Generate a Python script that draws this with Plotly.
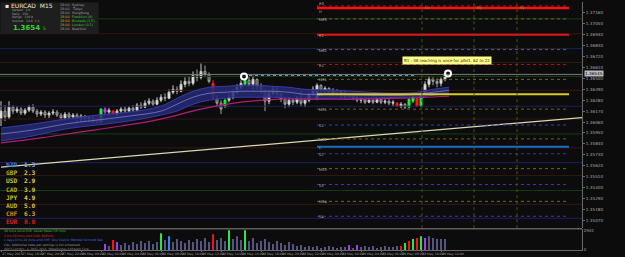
import plotly.graph_objects as go

# ------------------------------------------------------------------ data
opens = [1.3609, 1.3617, 1.3611, 1.3621, 1.3617, 1.3619, 1.3615, 1.3618, 1.3621, 1.3617,
         1.3614, 1.3616, 1.3613, 1.3615, 1.3616, 1.3613, 1.3610, 1.3614, 1.3611, 1.3613,
         1.3609, 1.3612, 1.3609, 1.3610, 1.3609, 1.3606, 1.3619, 1.3616, 1.3617, 1.3614,
         1.3617, 1.3619, 1.3617, 1.3620, 1.3618, 1.3623, 1.3621, 1.3625, 1.3627, 1.3624,
         1.3628, 1.3631, 1.3630, 1.3636, 1.3639, 1.3637, 1.3644, 1.3647, 1.3645, 1.3653,
         1.3651, 1.3657, 1.3654, 1.3645, 1.3630, 1.3625, 1.3622, 1.3628, 1.3631, 1.3636,
         1.3641, 1.3644, 1.3648, 1.3644, 1.3649, 1.3642, 1.3637, 1.3627, 1.3635, 1.3639,
         1.3634, 1.3629, 1.3624, 1.3628, 1.3626, 1.3630, 1.3625, 1.3628, 1.3634, 1.3630,
         1.3643, 1.3638, 1.3640, 1.3635, 1.3638, 1.3634, 1.3636, 1.3632, 1.3634, 1.3630,
         1.3628, 1.3629, 1.3626, 1.3628, 1.3626, 1.3629, 1.3626, 1.3627, 1.3625, 1.3625,
         1.3622, 1.3624, 1.3621, 1.3627, 1.3630, 1.3622, 1.3635, 1.3644, 1.3649, 1.3647,
         1.3645, 1.3649]
highs = [1.3627, 1.3623, 1.3627, 1.3623, 1.3622, 1.3621, 1.3620, 1.3623, 1.3624, 1.3619,
         1.3618, 1.3618, 1.3617, 1.3619, 1.3618, 1.3615, 1.3616, 1.3616, 1.3615, 1.3615,
         1.3614, 1.3613, 1.3612, 1.3612, 1.3610, 1.3620, 1.3621, 1.3620, 1.3618, 1.3619,
         1.3621, 1.3622, 1.3622, 1.3623, 1.3625, 1.3626, 1.3628, 1.3630, 1.3629, 1.3631,
         1.3634, 1.3635, 1.3639, 1.3643, 1.3642, 1.3648, 1.3651, 1.3652, 1.3657, 1.3659,
         1.3665, 1.3663, 1.3656, 1.3648, 1.3633, 1.3628, 1.3630, 1.3635, 1.3639, 1.3644,
         1.3648, 1.3650, 1.3652, 1.3653, 1.3650, 1.3645, 1.3639, 1.3638, 1.3642, 1.3641,
         1.3636, 1.3632, 1.3631, 1.3630, 1.3632, 1.3638, 1.3631, 1.3636, 1.3642, 1.3645,
         1.3644, 1.3642, 1.3641, 1.3640, 1.3639, 1.3638, 1.3637, 1.3635, 1.3635, 1.3633,
         1.3631, 1.3630, 1.3630, 1.3629, 1.3631, 1.3630, 1.3629, 1.3629, 1.3628, 1.3626,
         1.3626, 1.3625, 1.3630, 1.3634, 1.3632, 1.3637, 1.3647, 1.3652, 1.3651, 1.3650,
         1.3651, 1.3657]
lows = [1.3602, 1.3607, 1.3609, 1.3614, 1.3615, 1.3613, 1.3613, 1.3616, 1.3615, 1.3611,
        1.3612, 1.3610, 1.3610, 1.3613, 1.3611, 1.3607, 1.3608, 1.3609, 1.3608, 1.3606,
        1.3606, 1.3607, 1.3606, 1.3605, 1.3604, 1.3605, 1.3614, 1.3614, 1.3613, 1.3612,
        1.3615, 1.3615, 1.3616, 1.3616, 1.3617, 1.3619, 1.3620, 1.3623, 1.3622, 1.3623,
        1.3626, 1.3627, 1.3629, 1.3634, 1.3634, 1.3636, 1.3641, 1.3642, 1.3643, 1.3647,
        1.3649, 1.3651, 1.3645, 1.3629, 1.3621, 1.3614, 1.3620, 1.3626, 1.3629, 1.3634,
        1.3639, 1.3643, 1.3641, 1.3639, 1.3638, 1.3634, 1.3617, 1.3624, 1.3633, 1.3631,
        1.3626, 1.3620, 1.3621, 1.3623, 1.3624, 1.3622, 1.3621, 1.3626, 1.3632, 1.3628,
        1.3635, 1.3634, 1.3633, 1.3632, 1.3632, 1.3631, 1.3630, 1.3631, 1.3628, 1.3626,
        1.3625, 1.3624, 1.3625, 1.3624, 1.3625, 1.3624, 1.3624, 1.3623, 1.3622, 1.3621,
        1.3620, 1.3619, 1.3620, 1.3625, 1.3621, 1.3621, 1.3633, 1.3641, 1.3643, 1.3641,
        1.3642, 1.3647]
closes = [1.3617, 1.3611, 1.3621, 1.3617, 1.3619, 1.3615, 1.3618, 1.3621, 1.3617, 1.3614,
          1.3616, 1.3613, 1.3615, 1.3616, 1.3613, 1.3610, 1.3614, 1.3611, 1.3613, 1.3609,
          1.3612, 1.3609, 1.3610, 1.3607, 1.3606, 1.3619, 1.3616, 1.3618, 1.3614, 1.3617,
          1.3619, 1.3617, 1.3620, 1.3618, 1.3623, 1.3621, 1.3625, 1.3627, 1.3624, 1.3628,
          1.3631, 1.3630, 1.3636, 1.3639, 1.3637, 1.3644, 1.3647, 1.3645, 1.3653, 1.3651,
          1.3657, 1.3654, 1.3647, 1.3630, 1.3625, 1.3619, 1.3628, 1.3631, 1.3636, 1.3641,
          1.3645, 1.3648, 1.3644, 1.3649, 1.3642, 1.3637, 1.3627, 1.3635, 1.3639, 1.3634,
          1.3629, 1.3624, 1.3628, 1.3626, 1.3630, 1.3625, 1.3628, 1.3634, 1.3639, 1.3643,
          1.3638, 1.3640, 1.3635, 1.3638, 1.3634, 1.3636, 1.3632, 1.3634, 1.3630, 1.3628,
          1.3629, 1.3626, 1.3628, 1.3626, 1.3629, 1.3626, 1.3627, 1.3625, 1.3626, 1.3622,
          1.3624, 1.3621, 1.3629, 1.3632, 1.3622, 1.3635, 1.3644, 1.3649, 1.3647, 1.3645,
          1.3649, 1.3655]
bar_idx = list(range(len(opens)))

# highlighted candles (index -> colour)
hl_idx = [24, 25, 26, 28, 53, 56, 61, 87, 99, 102, 103, 104, 105]
hl_col = ['#ff1a1a', '#22e84a', '#c040f0', '#ff1a1a', '#ff1a1a', '#22e84a', '#22e84a',
          '#c040f0', '#ff1a1a', '#22e84a', '#22e84a', '#ff1a1a', '#22e84a']

# moving-average band
band_idx = [0, 8, 16, 24, 32, 40, 44, 48, 52, 56, 60, 64, 68, 72, 76, 84, 92, 100, 104, 108, 112]
band_upper = [1.3600, 1.3604, 1.3609, 1.3613, 1.3616, 1.3622, 1.3630, 1.3637, 1.3641, 1.3642,
              1.3643, 1.3643, 1.3642, 1.3641, 1.3639, 1.3638, 1.3636, 1.3635, 1.3636, 1.3639, 1.3641]
band_mid = [1.3594, 1.3598, 1.3604, 1.3608, 1.3612, 1.3617, 1.3624, 1.3631, 1.3635, 1.3636,
            1.3637, 1.3637, 1.3637, 1.3636, 1.3634, 1.3634, 1.3633, 1.3633, 1.3634, 1.3636, 1.3638]
band_lower = [1.3587, 1.3592, 1.3599, 1.3603, 1.3607, 1.3613, 1.3617, 1.3624, 1.3628, 1.3630,
              1.3631, 1.3631, 1.3631, 1.3630, 1.3629, 1.3630, 1.3630, 1.3631, 1.3631, 1.3633, 1.3635]
slow_idx = [0, 10, 20, 30, 40, 50, 60, 70, 80, 90, 100, 112]
slow_val = [1.3585, 1.3590, 1.3596, 1.3602, 1.3609, 1.3619, 1.3626, 1.3629, 1.3629, 1.3629, 1.3630, 1.3632]

# long trend line
trend_x = [0, 152.5]
trend_y = [1.35605, 1.3613]

# round-number levels (full width)
round_levels = [1.3710, 1.3695, 1.3680, 1.3666, 1.3652, 1.3638, 1.3622, 1.3609,
                1.3594, 1.3580, 1.3565, 1.3552, 1.3537, 1.3523, 1.3509]
round_colors = ['#123e16', '#3a1515', '#1f1f5c', '#3a1515'] * 4

current_price = 1.36545
cur_line_price = 1.3654
dotted_cyan_x = [62, 104]
dotted_cyan_y = [1.3653, 1.3653]

# pivot levels
piv_names = ["R3", "H", "MR3", "R2", "MR2", "R1", "MR1", "PP", "MS1", "S1", "MS2", "L",
             "S2", "MS3", "S3", "MS4", "S4"]
piv_prices = [1.3723, 1.3721, 1.3710, 1.3694, 1.3679, 1.3664, 1.3649, 1.3634, 1.3619, 1.3603,
              1.3589, 1.3581, 1.3574, 1.3559, 1.3543, 1.3526, 1.3511]
piv_colors = ['#b01818', '#ff1010', '#6a6a14', '#e01414', '#6a6a14', '#a01818', '#6a6a14',
              '#d8cc20', '#6a6a14', '#3a3aa8', '#6a6a14', '#1c6cc0', '#3a3aa8', '#6a6a14',
              '#3a3aa8', '#6a6a14', '#3a3aa8']
piv_dash = ['dot', 'solid', 'dot', 'solid', 'dot', 'dot', 'dot', 'solid', 'dot', 'dot', 'dot',
            'solid', 'dot', 'dot', 'dot', 'dot', 'dot']
piv_width = [1, 2.5, 1, 2, 1, 1, 1, 2, 1, 1, 1, 2, 1, 1, 1, 1, 1]
piv_label_shift = [3, -3, 0, 0, 0, 0, 0, 0, 0, 0, 0, 0, 0, 0, 0, 0, 0]
piv_start, piv_end = 79, 142

# session markers
sess_x = [105.25, 118.25, 129]
sess_names = ["Lo", "Ny", "Sy"]

# signal markers
mark_x = [60.75, 111.75]
mark_y = [1.3652, 1.3655]

# volume
vol_idx = list(range(26, 112))
vol = [870, 580, 1450, 1160, 725, 1015, 725, 1160, 870, 1305,
       1015, 1305, 870, 1160, 2465, 1450, 2030, 1160, 1595, 1305,
       1015, 1450, 1160, 1595, 1305, 1740, 1160, 2320, 1450, 1740,
       1305, 2900, 1595, 2030, 1450, 2901, 1305, 1740, 1015, 1305,
       1595, 1160, 870, 1305, 1015, 725, 1160, 870, 580, 725,
       435, 580, 435, 580, 290, 435, 580, 435, 290, 435,
       435, 725, 290, 725, 435, 580, 435, 580, 290, 435,
       580, 435, 435, 580, 580, 1015, 1305, 1595, 1740, 2030,
       1740, 2030, 1740, 1595, 1595, 1595]
vol_special_idx = [26, 28, 29, 40, 42, 53, 57, 61, 87, 89, 100, 101, 102, 103, 104, 105, 106]
vol_special_col = ['#a040e8', '#ff1010', '#a040e8', '#22e84a', '#2a8ef0', '#ff1010', '#22e84a',
                   '#22e84a', '#a040e8', '#a040e8', '#ff1010', '#22e84a', '#ff1010', '#22e84a',
                   '#ff1010', '#22e84a', '#a040e8']

# axes labels
ytick_vals = [1.3716, 1.3705, 1.3694, 1.3683, 1.3672, 1.3661, 1.3650, 1.3639, 1.3628, 1.3617,
              1.3606, 1.3595, 1.3584, 1.3573, 1.3562, 1.3551, 1.3540, 1.3529, 1.3518, 1.3507]
xtick_vals = [0, 5, 10, 15, 20, 25, 30, 35, 40, 45, 50, 55, 60, 65, 70, 75, 80, 85, 90, 95, 100, 105, 110]
xtick_text = ["27 May 2015", "27 May 18:00", "27 May 20:00", "27 May 22:00", "28 May 00:00",
              "28 May 02:00", "28 May 04:00", "28 May 06:00", "28 May 08:00", "28 May 10:00",
              "28 May 12:00", "28 May 14:00", "28 May 16:00", "28 May 18:00", "28 May 20:00",
              "28 May 22:00", "29 May 00:00", "29 May 02:00", "29 May 04:00", "29 May 06:00",
              "29 May 08:00", "29 May 10:00", "29 May 12:00"]

currencies = ["NZD", "GBP", "USD", "CAD", "JPY", "AUD", "CHF", "EUR"]
strength = [1.3, 2.3, 2.9, 3.9, 4.9, 5.0, 6.3, 8.8]
cur_label_col = ['#3f7fd8', '#c0ac10', '#d0c020', '#b8a818', '#d4bc20', '#d8a820', '#d88a1a', '#e01818']
cur_value_col = ['#8ab4ec', '#e0d040', '#e0d040', '#d8c830', '#e0d040', '#e0c040', '#e0a030', '#e01818']

sessions = ["Sydney", "Tokyo", "HongKong", "Frankfurt (8)", "Brussels (1.5)", "London (0.5)", "NewYork"]
session_time = ["18:00"] * 7
session_open = [False, False, False, True, True, True, False]

info_lines = ["Spread:  2.0", "Daily:  150", "Range:  130.9", "Volume:  14.0  1.3"]

news_lines = ["30 mins since EUR: Italian Retail CPI m/m",
              "2 hrs 50 mins until CAD: BOPmm",
              "1 days 8 hrs 24 mins until CHF: Gov Council Member Schmidt Spe",
              "CAL: Additional news per settings is not scheduled",
              "ADCS London, \u00a9 2001-2014, MetaQuotes Software Corp."]
news_colors = ['#30c830', '#e82020', '#3a78e8', '#9a9a9a', '#8a8a8a']

note_text = "R1 : 48 reaching is once for pfbl1, 62 to 22"

# ------------------------------------------------------------------ layout helpers
BG = '#0c0c0c'
PW, PH = 582, 250
X0, X1 = -0.25, 145.25
Y0, Y1 = 1.3499, 1.3727
FONT = 'DejaVu Sans'


def fx(p):
    return p / PW


def fy(p):
    return (PH - p) / PH


fig = go.Figure()


def line(x, y, color, width=1, dash='solid', shape='linear'):
    fig.add_trace(go.Scatter(x=x, y=y, mode='lines', hoverinfo='skip',
                             line=dict(color=color, width=width, dash=dash, shape=shape)))


for lv, col in zip(round_levels, round_colors):
    line([X0, X1], [lv, lv], col, 1)

line(trend_x, trend_y, '#d8d8b4', 1.3)

# band
fig.add_trace(go.Scatter(x=band_idx, y=band_upper, mode='lines', hoverinfo='skip',
                         line=dict(color='#3a3aa6', width=1, shape='spline')))
fig.add_trace(go.Scatter(x=band_idx, y=band_lower, mode='lines', hoverinfo='skip', fill='tonexty',
                         fillcolor='rgba(38,42,120,0.85)',
                         line=dict(color='#3a3aa6', width=1, shape='spline')))
line(band_idx, band_mid, '#7c7cc4', 0.8, shape='spline')
line(slow_idx, slow_val, '#b01e78', 1.2, shape='spline')

line([X0, X1], [cur_line_price, cur_line_price], '#7a7a7a', 1)
line(dotted_cyan_x, dotted_cyan_y, '#6aa6d6', 1, 'dot')

ann = []

for name, pr, col, ds, wd, sh in zip(piv_names, piv_prices, piv_colors, piv_dash, piv_width,
                                     piv_label_shift):
    line([piv_start, piv_end], [pr, pr], col, wd, ds)
    ann.append(dict(x=piv_start, y=pr, xref='x', yref='y', text=name, showarrow=False,
                    xanchor='left', yanchor='middle', yshift=sh - 1,
                    font=dict(size=3.6, color='#b8b8b8', family=FONT)))

for sx, sn in zip(sess_x, sess_names):
    line([sx, sx], [Y0, Y1], '#4e4e1c', 1, 'dot')
    ann.append(dict(x=sx, y=Y1, xref='x', yref='y', text=sn, showarrow=False, xanchor='left',
                    yanchor='top', xshift=1, yshift=-1,
                    font=dict(size=4, color='#8a8a50', family=FONT)))

# candles
hl_set = set(hl_idx)
b = [i for i in bar_idx if i not in hl_set]
fig.add_trace(go.Candlestick(
    x=b, open=[opens[i] for i in b], high=[highs[i] for i in b],
    low=[lows[i] for i in b], close=[closes[i] for i in b],
    increasing=dict(line=dict(color='#c8c8c8', width=1), fillcolor='#f0f0f0'),
    decreasing=dict(line=dict(color='#a0a0a0', width=1), fillcolor='#3a3a3a'),
    hoverinfo='skip', whiskerwidth=0))
for i, c in zip(hl_idx, hl_col):
    fig.add_trace(go.Candlestick(
        x=[i], open=[opens[i]], high=[highs[i]], low=[lows[i]], close=[closes[i]],
        increasing=dict(line=dict(color=c, width=1), fillcolor=c),
        decreasing=dict(line=dict(color=c, width=1), fillcolor=c),
        hoverinfo='skip', whiskerwidth=0))

fig.add_trace(go.Scatter(x=mark_x, y=mark_y, mode='markers', hoverinfo='skip',
                         marker=dict(symbol='circle-open', size=6, color='#ffffff',
                                     line=dict(width=2, color='#ffffff'))))

# volume
vcol_map = dict(zip(vol_special_idx, vol_special_col))
vcols = [vcol_map.get(i, '#55557e') for i in vol_idx]
fig.add_trace(go.Bar(x=vol_idx, y=vol, marker=dict(color=vcols, line=dict(width=0)),
                     width=0.45, xaxis='x2', yaxis='y2', hoverinfo='skip'))


def txt(xp, yp, t, size, color, family=FONT, anchor='left'):
    ann.append(dict(x=fx(xp), y=fy(yp), xref='paper', yref='paper', text=t, showarrow=False,
                    xanchor=anchor, yanchor='middle', font=dict(size=size, color=color, family=family)))


# top-left panel background (annotation so that later texts draw above it)
ann.insert(0, dict(x=0, y=1, xref='paper', yref='paper', text=' ', showarrow=False,
                   xanchor='left', yanchor='top', width=97, height=30, bgcolor='#1e1e1e',
                   borderpad=0, font=dict(size=4)))
txt(3, 4, "\u25aa EURCAD  M15", 6, '#e6e6e6')
for k, s in enumerate(info_lines):
    txt(10, 8.5 + 3.5 * k, s, 3, '#a0a0a0')
txt(11, 26.5, "<b>1.3654</b>", 7, '#3cd23c')
txt(41, 26.5, "5", 4.5, '#3cd23c')
for k, (t, s, op) in enumerate(zip(session_time, sessions, session_open)):
    txt(58, 3 + 4 * k, t, 3.3, '#e8a030' if op else '#a0a0a0')
    txt(70, 3 + 4 * k, s, 3.3, '#38c838' if op else '#a0a0a0')

# currency strength table
for k, (c, v, lc, vc) in enumerate(zip(currencies, strength, cur_label_col, cur_value_col)):
    yp = 164 + 8.2 * k
    txt(4, yp, "<b>%s</b>" % c, 6.2, lc, 'DejaVu Sans Mono')
    txt(22, yp, "<b>%.1f</b>" % v, 6.2, vc, 'DejaVu Sans Mono')

# news lines
for k, (s, c) in enumerate(zip(news_lines, news_colors)):
    txt(2, 231 + 4.5 * k, s, 3, c)

# note box
ann.append(dict(x=fx(447), y=fy(59), xref='paper', yref='paper', text=note_text, showarrow=False,
                xanchor='center', yanchor='middle', bgcolor='#ffff88', borderpad=1,
                font=dict(size=4, color='#202020', family=FONT)))

# current price tag on the axis
ann.append(dict(x=1, y=current_price, xref='paper', yref='y', text="1.36545", showarrow=False,
                xanchor='left', yanchor='middle', xshift=2, bgcolor='#bcbcbc', borderpad=0,
                font=dict(size=4.2, color='#000000', family=FONT)))

shapes = [
    dict(type='line', xref='paper', yref='paper', x0=0, x1=1, y0=fy(228.5), y1=fy(228.5),
         line=dict(color='#5e5e5e', width=1.5)),
]

fig.update_layout(
    width=625, height=257, margin=dict(l=0, r=43, t=0, b=7),
    paper_bgcolor=BG, plot_bgcolor=BG, showlegend=False, hovermode=False,
    annotations=ann, shapes=shapes,
    xaxis=dict(domain=[0, 1], range=[X0, X1], anchor='y', showticklabels=False, showgrid=False,
               zeroline=False, rangeslider=dict(visible=False), fixedrange=True),
    yaxis=dict(domain=[0.088, 1], range=[Y0, Y1], side='right', tickvals=ytick_vals,
               tickformat='.5f', showgrid=False, zeroline=False, showline=True,
               linecolor='#6a6a6a', ticks='outside', ticklen=2, tickcolor='#6a6a6a',
               tickfont=dict(size=4.2, color='#a8a8a8', family=FONT)),
    xaxis2=dict(domain=[0, 1], range=[X0, X1], anchor='y2', tickvals=xtick_vals,
                ticktext=xtick_text, ticklabelposition='outside right', tickangle=0,
                showgrid=False, zeroline=False, showline=True, linecolor='#6a6a6a',
                ticks='outside', ticklen=1, tickcolor='#6a6a6a',
                tickfont=dict(size=3.2, color='#9a9a9a', family=FONT),
                rangeslider=dict(visible=False)),
    yaxis2=dict(domain=[0, 0.084], range=[0, 3050], side='right', tickvals=[0, 2901],
                ticktext=["0", "2901"], showgrid=False, zeroline=False, showline=True,
                linecolor='#6a6a6a', ticks='', tickfont=dict(size=4, color='#a8a8a8', family=FONT)),
)

fig.write_html("out.html")
